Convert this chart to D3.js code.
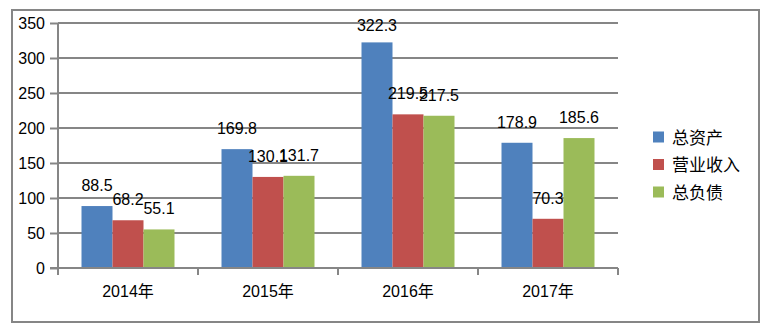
<!DOCTYPE html>
<html><head><meta charset="utf-8">
<script src="https://cdn.jsdelivr.net/npm/d3@7"></script>
<style>body{margin:0;background:#fff}svg{display:block}</style>
</head><body>
<svg id="c" width="778" height="327"></svg>
<script>
const categories = ["2014年", "2015年", "2016年", "2017年"];
const seriesNames = ["总资产", "营业收入", "总负债"];
const totalAssets = [88.5, 169.8, 322.3, 178.9];
const revenue = [68.2, 130.1, 219.5, 70.3];
const totalLiabilities = [55.1, 131.7, 217.5, 185.6];
const yTicks = [0, 50, 100, 150, 200, 250, 300, 350];
const colors = ["#4F81BD", "#C0504D", "#9BBB59"];
const seriesValues = [totalAssets, revenue, totalLiabilities];

const svg = d3.select("#c");
const gray = "#868686";
const font = "'Liberation Sans', 'Noto Sans CJK SC', sans-serif";

// outer border
svg.append("rect").attr("x", 12).attr("y", 10).attr("width", 747).attr("height", 312)
  .attr("fill", "none").attr("stroke", gray).attr("stroke-width", 2);

const x0 = d3.scaleBand().domain(categories).range([58, 618]).paddingInner(0).paddingOuter(0);
const x1 = d3.scaleBand().domain(seriesNames).range([23.5, 140 - 23.5]);
const y = d3.scaleLinear().domain([0, 350]).range([268, 23]);

// gridlines
svg.append("g").selectAll("line").data(yTicks.filter(d => d > 0)).join("line")
  .attr("x1", 58).attr("x2", 618).attr("y1", d => y(d)).attr("y2", d => y(d))
  .attr("stroke", gray).attr("stroke-width", 2);

// y axis
const yAxis = svg.append("g").attr("transform", "translate(58,0)")
  .call(d3.axisLeft(y).tickValues(yTicks).tickSize(8).tickPadding(5).tickFormat(d3.format("d")));
yAxis.select(".domain").remove();
yAxis.append("line").attr("x1", 0).attr("x2", 0).attr("y1", 23).attr("y2", 275)
  .attr("stroke", gray).attr("stroke-width", 2);
yAxis.selectAll(".tick line").attr("stroke", gray).attr("stroke-width", 2);
yAxis.selectAll(".tick text").attr("font-family", font).attr("font-size", 16).attr("fill", "#000");

// bars
const groups = svg.append("g").selectAll("g").data(categories).join("g")
  .attr("transform", c => `translate(${x0(c)},0)`);
groups.selectAll("rect").data((c, i) => seriesNames.map((s, j) => ({s, j, v: seriesValues[j][i]}))).join("rect")
  .attr("x", d => x1(d.s)).attr("width", x1.bandwidth())
  .attr("y", d => y(d.v)).attr("height", d => y(0) - y(d.v))
  .attr("fill", d => colors[d.j]);

// x axis
const xAxis = svg.append("g").attr("transform", "translate(0,268)")
  .call(d3.axisBottom(x0).tickSize(0).tickPadding(0).tickFormat(""));
xAxis.select(".domain").attr("stroke", gray).attr("stroke-width", 2).attr("d", "M50,0H618");
xAxis.selectAll(".tick").remove();
xAxis.selectAll("line.sep").data(categories).join("line").attr("class", "sep")
  .attr("x1", c => x0(c) + x0.bandwidth()).attr("x2", c => x0(c) + x0.bandwidth())
  .attr("y1", 0).attr("y2", 7).attr("stroke", gray).attr("stroke-width", 2);
xAxis.selectAll("text.cat").data(categories).join("text").attr("class", "cat")
  .attr("x", c => x0(c) + x0.bandwidth() / 2).attr("y", 29)
  .attr("text-anchor", "middle").attr("font-family", font).attr("font-size", 16).attr("fill", "#000")
  .text(c => c);

// data labels
groups.selectAll("text").data((c, i) => seriesNames.map((s, j) => ({s, j, v: seriesValues[j][i]}))).join("text")
  .attr("x", d => x1(d.s) + x1.bandwidth() / 2)
  .attr("y", d => Math.max(y(d.v) - 15, 31))
  .attr("text-anchor", "middle").attr("font-family", font).attr("font-size", 16).attr("fill", "#000")
  .text(d => d3.format(".1f")(d.v));

// legend
const legend = svg.append("g").selectAll("g").data(seriesNames).join("g")
  .attr("transform", (d, i) => `translate(653,${137.5 + i * 27.5})`);
legend.append("rect").attr("x", 0).attr("y", -6).attr("width", 11).attr("height", 11)
  .attr("fill", (d, i) => colors[i]);
legend.append("text").attr("x", 19).attr("y", 0).attr("dy", "0.36em")
  .attr("font-family", "'Noto Sans CJK SC', sans-serif").attr("font-size", 17).attr("fill", "#000")
  .text(d => d);
</script>
</body></html>
